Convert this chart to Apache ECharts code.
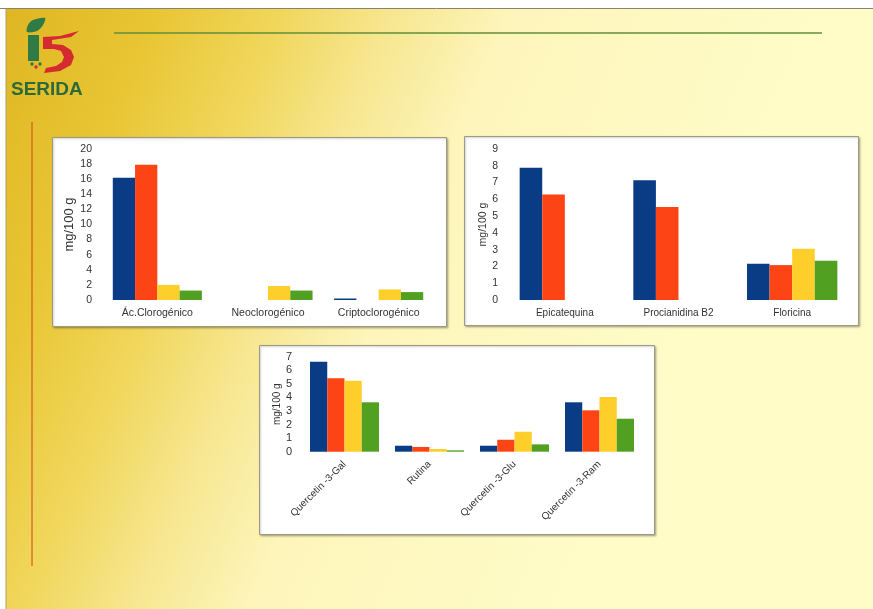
<!DOCTYPE html>
<html>
<head>
<meta charset="utf-8">
<script src="https://cdn.jsdelivr.net/npm/echarts@6/dist/echarts.min.js"></script>
<style>
  html, body { margin: 0; padding: 0; background: #ffffff; }
  #chart { width: 873px; height: 609px; }
</style>
</head>
<body>
<div id="chart"></div>
<script>
// Ácidos hidroxicinámicos
const catsA = ['Ác.Clorogénico', 'Neoclorogénico', 'Criptoclorogénico'];
const blueA = [16.2, 0, 0.2];
const redA = [17.9, 0, 0];
const yellowA = [2.0, 1.85, 1.4];
const greenA = [1.25, 1.25, 1.05];

// Flavanoles y dihidrochalconas
const catsB = ['Epicatequina', 'Procianidina B2', 'Floricina'];
const blueB = [7.88, 7.14, 2.16];
const redB = [6.29, 5.54, 2.08];
const yellowB = [0, 0, 3.05];
const greenB = [0, 0, 2.34];

// Flavonoles
const catsC = ['Quercetin -3-Gal', 'Rutina', 'Quercetin -3-Glu', 'Quercetin -3-Ram'];
const blueC = [6.63, 0.44, 0.44, 3.64];
const redC = [5.41, 0.35, 0.88, 3.05];
const yellowC = [5.23, 0.2, 1.47, 4.03];
const greenC = [3.64, 0.1, 0.54, 2.43];

const yTicksA = { min: 0, max: 20, interval: 2 };
const yTicksB = { min: 0, max: 9, interval: 1 };
const yTicksC = { min: 0, max: 7, interval: 1 };

const unitLabel = 'mg/100 g';
const colors = ['#0a3c85', '#fc4414', '#fecf2a', '#52a022'];
const FONT = "'Liberation Sans', Arial, sans-serif";

const chart = echarts.init(document.getElementById('chart'), null, { renderer: 'canvas' });

function yAxis(gridIndex, ticks, nameGap, nameSize, labelSize) {
  return {
    type: 'value', gridIndex,
    min: ticks.min, max: ticks.max, interval: ticks.interval,
    name: unitLabel, nameLocation: 'middle', nameGap,
    nameTextStyle: { color: '#333', fontSize: nameSize, fontFamily: FONT },
    axisLine: { show: false }, axisTick: { show: false }, splitLine: { show: false },
    axisLabel: { color: '#333', fontSize: labelSize, fontFamily: FONT, margin: 10 }
  };
}

function xAxis(gridIndex, cats, extra) {
  return Object.assign({
    type: 'category', gridIndex, data: cats,
    axisLine: { show: false }, axisTick: { show: false }, splitLine: { show: false }
  }, extra);
}

function bars(gridIndex, groups, gap) {
  return groups.map((vals, i) => ({
    type: 'bar', xAxisIndex: gridIndex, yAxisIndex: gridIndex,
    data: vals, barGap: '0%', barCategoryGap: gap,
    itemStyle: { color: colors[i] }, silent: true
  }));
}

const panelStyle = {
  fill: '#ffffff', stroke: '#9c9a82', lineWidth: 1,
  shadowBlur: 2, shadowColor: 'rgba(0,0,0,0.25)', shadowOffsetX: 1, shadowOffsetY: 1
};

// Decorative slide elements: backdrop, logo, rules and framed panels
const backdrop = [
  {
    type: 'rect', z: -10, silent: true,
    shape: { x: 6, y: 9, width: 867, height: 600 },
    style: {
      fill: {
        type: 'linear', x: 0, y: 0, x2: 700, y2: 307, global: true,
        colorStops: [
          { offset: 0, color: '#deb521' },
          { offset: 0.2, color: '#e9c635' },
          { offset: 0.34, color: '#f0d65a' },
          { offset: 0.48, color: '#f7e791' },
          { offset: 0.62, color: '#fdf5bb' },
          { offset: 1, color: '#fffcc8' }
        ]
      }
    }
  },
  { type: 'line', z: -9, silent: true, shape: { x1: 0, y1: 8.5, x2: 873, y2: 8.5 }, style: { stroke: '#8a8270', lineWidth: 1 } },
  { type: 'line', z: -9, silent: true, shape: { x1: 6, y1: 9, x2: 6, y2: 609 }, style: { stroke: '#b0a060', lineWidth: 1 } },
  { type: 'line', z: -9, silent: true, shape: { x1: 114, y1: 33, x2: 822, y2: 33 }, style: { stroke: '#5f8f3a', lineWidth: 1.5 } },
  { type: 'line', z: -9, silent: true, shape: { x1: 32, y1: 122, x2: 32, y2: 566 }, style: { stroke: '#c9461c', lineWidth: 1 } },
  // logo: leaf, stem, seeds and swoosh
  { type: 'polygon', z: -8, silent: true,
    shape: { points: [[27, 32], [28, 25], [33, 20], [45, 18], [43, 25], [37, 31]], smooth: 0.3 },
    style: { fill: '#2f7a45' } },
  { type: 'rect', z: -8, silent: true, shape: { x: 28, y: 35, width: 11, height: 26 }, style: { fill: '#2f7a45' } },
  { type: 'circle', z: -8, silent: true, shape: { cx: 32, cy: 64, r: 1.7 }, style: { fill: '#2f7a45' } },
  { type: 'circle', z: -8, silent: true, shape: { cx: 36, cy: 67, r: 1.7 }, style: { fill: '#c8323a' } },
  { type: 'circle', z: -8, silent: true, shape: { cx: 40, cy: 64, r: 1.7 }, style: { fill: '#2f7a45' } },
  { type: 'polygon', z: -8, silent: true,
    shape: { points: [[43, 42], [43, 37], [60, 36], [79, 31], [71, 37], [52, 40], [52, 44], [63, 45], [71, 50],
                      [74, 57], [71, 65], [60, 71], [44, 73], [46, 68], [56, 66], [62, 62], [64, 57], [61, 51], [54, 49], [43, 49]] },
    style: { fill: '#d42a30' } },
  { type: 'text', z: -8, silent: true, x: 11, y: 80,
    style: { text: 'SERIDA', fill: '#2d6a3a', font: "bold 19px 'Liberation Sans', Arial, sans-serif" } },
  // panels
  { type: 'rect', z: -5, silent: true, shape: { x: 52.5, y: 137.5, width: 394, height: 189 }, style: panelStyle },
  { type: 'rect', z: -5, silent: true, shape: { x: 464.5, y: 136.5, width: 394, height: 189 }, style: panelStyle },
  { type: 'rect', z: -5, silent: true, shape: { x: 259.5, y: 345.5, width: 395, height: 189 }, style: panelStyle }
];

const option = {
  animation: false,
  backgroundColor: 'transparent',
  graphic: { elements: backdrop },
  grid: [
    { left: 102, top: 149, width: 332, height: 151, containLabel: false },
    { left: 508, top: 149, width: 341, height: 151, containLabel: false },
    { left: 302, top: 356.7, width: 340, height: 95, containLabel: false }
  ],
  xAxis: [
    xAxis(0, catsA, { axisLabel: { color: '#333', fontSize: 10.5, fontFamily: FONT, margin: 8 } }),
    xAxis(1, catsB, { axisLabel: { color: '#333', fontSize: 10, fontFamily: FONT, margin: 8 } }),
    xAxis(2, catsC, { axisLabel: { color: '#333', fontSize: 10, fontFamily: FONT, margin: 11, rotate: 45, interval: 0 } })
  ],
  yAxis: [
    yAxis(0, yTicksA, 23, 13, 10.5),
    yAxis(1, yTicksB, 17, 10.5, 10.5),
    yAxis(2, yTicksC, 18, 10, 11)
  ],
  series: [
    ...bars(0, [blueA, redA, yellowA, greenA], '19.5%'),
    ...bars(1, [blueB, redB, yellowB, greenB], '20.5%'),
    ...bars(2, [blueC, redC, yellowC, greenC], '18.8%')
  ]
};

chart.setOption(option);
</script>
</body>
</html>
